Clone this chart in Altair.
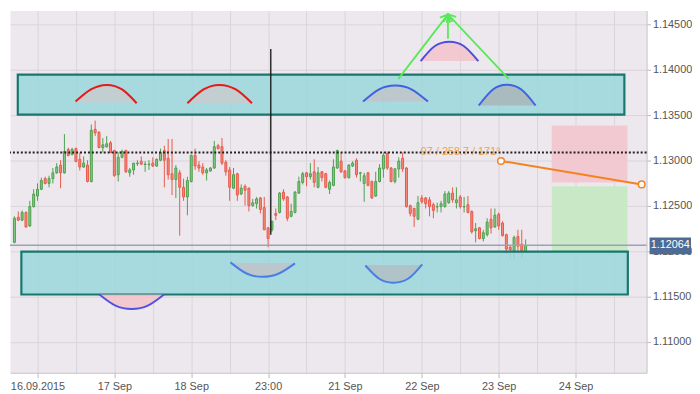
import json
import altair as alt
import pandas as pd

# ---------------- data ----------------
opens = [1.12097, 1.12374, 1.12342, 1.12427, 1.12278, 1.12491, 1.12608, 1.12683, 1.12800, 1.12747,
         1.12800, 1.12864, 1.12949, 1.12864, 1.13120, 1.13067, 1.13131, 1.13013, 1.12928, 1.12949,
         1.12768, 1.13344, 1.13312, 1.13141, 1.13152, 1.13195, 1.13109, 1.12843, 1.13035, 1.13109,
         1.12864, 1.12896, 1.12965, 1.12992, 1.12955, 1.12955, 1.12971, 1.12939, 1.13003, 1.13109,
         1.13024, 1.12854, 1.12790, 1.12864, 1.12704, 1.12598, 1.12768, 1.13056, 1.12949, 1.12928,
         1.12864, 1.12885, 1.12917, 1.13163, 1.13152, 1.12981, 1.12896, 1.12694, 1.12854, 1.12630,
         1.12715, 1.12694, 1.12502, 1.12523, 1.12587, 1.12480, 1.12257, 1.12235, 1.12416, 1.12427,
         1.12651, 1.12598, 1.12384, 1.12427, 1.12640, 1.12758, 1.12864, 1.12821, 1.12875, 1.12704,
         1.12875, 1.12854, 1.12683, 1.12726, 1.12917, 1.12992, 1.12885, 1.12811, 1.12939, 1.13003,
         1.12859, 1.12747, 1.12864, 1.12768, 1.12608, 1.12768, 1.12907, 1.13077, 1.12917, 1.12768,
         1.12907, 1.13024, 1.12917, 1.12502, 1.12470, 1.12352, 1.12587, 1.12587, 1.12566, 1.12512,
         1.12488, 1.12491, 1.12491, 1.12534, 1.12640, 1.12534, 1.12598, 1.12488, 1.12512, 1.12438,
         1.12225, 1.12257, 1.12139, 1.12182, 1.12352, 1.12267, 1.12406, 1.12310, 1.12182, 1.12043,
         1.11990, 1.12161, 1.12075, 1.11990]
highs = [1.12384, 1.12438, 1.12448, 1.12438, 1.12555, 1.12683, 1.12747, 1.12811, 1.12821, 1.12832,
         1.12917, 1.12971, 1.13003, 1.13291, 1.13141, 1.13141, 1.13141, 1.13088, 1.13045, 1.13003,
         1.13397, 1.13440, 1.13323, 1.13248, 1.13269, 1.13216, 1.13120, 1.13088, 1.13120, 1.13120,
         1.12917, 1.12971, 1.13003, 1.13045, 1.12992, 1.13003, 1.13035, 1.13024, 1.13131, 1.13163,
         1.13237, 1.13237, 1.12949, 1.12896, 1.12800, 1.12821, 1.13067, 1.13131, 1.12992, 1.12971,
         1.12917, 1.12928, 1.13216, 1.13184, 1.13248, 1.13003, 1.12928, 1.12917, 1.12864, 1.12736,
         1.12736, 1.12704, 1.12576, 1.12598, 1.12598, 1.12598, 1.12267, 1.12331, 1.12470, 1.12651,
         1.12683, 1.12608, 1.12523, 1.12662, 1.12821, 1.12875, 1.12875, 1.12971, 1.13013, 1.12928,
         1.12885, 1.12864, 1.12779, 1.13013, 1.13120, 1.13088, 1.12896, 1.12960, 1.12992, 1.13024,
         1.12875, 1.12864, 1.12875, 1.12779, 1.12875, 1.12960, 1.13088, 1.13099, 1.12928, 1.12917,
         1.13035, 1.13088, 1.12928, 1.12512, 1.12480, 1.12608, 1.12619, 1.12598, 1.12598, 1.12534,
         1.12534, 1.12555, 1.12662, 1.12662, 1.12704, 1.12704, 1.12619, 1.12598, 1.12608, 1.12449,
         1.12310, 1.12267, 1.12235, 1.12363, 1.12470, 1.12470, 1.12427, 1.12331, 1.12193, 1.12065,
         1.12171, 1.12235, 1.12235, 1.12129]
lows = [1.12086, 1.12331, 1.12331, 1.12257, 1.12267, 1.12480, 1.12555, 1.12672, 1.12736, 1.12705,
        1.12747, 1.12854, 1.12694, 1.12854, 1.13045, 1.13056, 1.12988, 1.12890, 1.12917, 1.12758,
        1.12758, 1.13269, 1.13141, 1.13088, 1.13141, 1.13088, 1.12821, 1.12768, 1.13024, 1.12864,
        1.12821, 1.12843, 1.12939, 1.12949, 1.12875, 1.12896, 1.12928, 1.12928, 1.12992, 1.12704,
        1.12790, 1.12619, 1.12587, 1.12171, 1.12555, 1.12395, 1.12758, 1.12896, 1.12875, 1.12843,
        1.12779, 1.12875, 1.12907, 1.13120, 1.12949, 1.12832, 1.12555, 1.12683, 1.12555, 1.12619,
        1.12502, 1.12438, 1.12491, 1.12470, 1.12416, 1.12235, 1.12043, 1.12214, 1.12342, 1.12416,
        1.12555, 1.12331, 1.12374, 1.12416, 1.12630, 1.12736, 1.12715, 1.12790, 1.12704, 1.12694,
        1.12768, 1.12694, 1.12630, 1.12715, 1.12907, 1.12864, 1.12800, 1.12800, 1.12928, 1.12811,
        1.12768, 1.12544, 1.12715, 1.12576, 1.12598, 1.12758, 1.12811, 1.12896, 1.12758, 1.12747,
        1.12811, 1.12875, 1.12480, 1.12384, 1.12267, 1.12342, 1.12523, 1.12470, 1.12384, 1.12363,
        1.12427, 1.12427, 1.12480, 1.12523, 1.12534, 1.12470, 1.12470, 1.12427, 1.12416, 1.12193,
        1.12097, 1.12129, 1.12107, 1.12161, 1.12193, 1.12257, 1.12235, 1.12161, 1.11969, 1.11915,
        1.11915, 1.11969, 1.11915, 1.11979]
closes = [1.12363, 1.12342, 1.12427, 1.12267, 1.12491, 1.12630, 1.12683, 1.12779, 1.12747, 1.12800,
          1.12864, 1.12928, 1.12864, 1.13099, 1.13056, 1.13120, 1.12988, 1.12928, 1.12971, 1.12768,
          1.13333, 1.13304, 1.13141, 1.13173, 1.13184, 1.13088, 1.12832, 1.13035, 1.13099, 1.12875,
          1.12896, 1.12971, 1.12971, 1.12960, 1.12960, 1.12960, 1.12939, 1.13013, 1.13088, 1.13003,
          1.12843, 1.12790, 1.12917, 1.12704, 1.12598, 1.12779, 1.13056, 1.12939, 1.12917, 1.12864,
          1.12896, 1.12917, 1.13152, 1.13131, 1.12971, 1.12875, 1.12704, 1.12843, 1.12619, 1.12694,
          1.12672, 1.12502, 1.12534, 1.12576, 1.12459, 1.12235, 1.12139, 1.12331, 1.12395, 1.12640,
          1.12576, 1.12363, 1.12438, 1.12651, 1.12768, 1.12854, 1.12821, 1.12854, 1.12758, 1.12864,
          1.12811, 1.12704, 1.12758, 1.12928, 1.13109, 1.12875, 1.12811, 1.12949, 1.12971, 1.12843,
          1.12864, 1.12832, 1.12726, 1.12587, 1.12768, 1.12917, 1.13056, 1.12917, 1.12768, 1.12907,
          1.12992, 1.12907, 1.12491, 1.12416, 1.12384, 1.12534, 1.12544, 1.12523, 1.12491, 1.12449,
          1.12491, 1.12523, 1.12630, 1.12640, 1.12566, 1.12566, 1.12491, 1.12491, 1.12427, 1.12214,
          1.12246, 1.12139, 1.12203, 1.12320, 1.12257, 1.12395, 1.12278, 1.12171, 1.12022, 1.12012,
          1.12150, 1.12054, 1.11990, 1.12064]

tick_labels = ["16.09.2015", "17 Sep", "18 Sep", "23:00", "21 Sep", "22 Sep", "23 Sep", "24 Sep"]
grid_bars = [6, 16, 26, 36, 46, 56, 66, 76, 86, 96, 106, 116, 126, 136, 146, 156]
price_ticks = [1.110, 1.115, 1.120, 1.125, 1.130, 1.135, 1.140, 1.145]

last_price = 1.12064
level_price = 1.13088

# support / resistance zones
zone_start = [0.87, 1.80]
zone_end = [158.7, 159.6]
zone_low = [1.13507, 1.11521]
zone_high = [1.13948, 1.11995]

# stop / target boxes
box_start = [139.8, 139.8]
box_end = [159.5, 159.5]
box_low = [1.12758, 1.12000]
box_high = [1.13386, 1.12715]

# hand-drawn arcs
arc_x = [
    [15.9, 19.9, 24.0, 28.0, 31.8],
    [45.0, 49.2, 53.3, 57.6, 61.8],
    [90.7, 94.9, 99.1, 103.3, 107.6],
    [120.8, 124.5, 128.1, 131.9, 135.6],
    [105.7, 109.4, 113.2, 116.9, 120.7],
    [56.2, 60.4, 64.6, 68.8, 73.0],
    [91.3, 94.9, 98.5, 102.4, 106.1],
    [22.1, 26.3, 30.5, 34.7, 38.9],
]
arc_y = [
    [1.13650, 1.13784, 1.13834, 1.13784, 1.13632],
    [1.13632, 1.13784, 1.13834, 1.13784, 1.13632],
    [1.13650, 1.13786, 1.13827, 1.13786, 1.13650],
    [1.13607, 1.13784, 1.13837, 1.13784, 1.13607],
    [1.14097, 1.14263, 1.14311, 1.14263, 1.14097],
    [1.11876, 1.11753, 1.11716, 1.11753, 1.11865],
    [1.11841, 1.11695, 1.11652, 1.11695, 1.11855],
    [1.11521, 1.11398, 1.11361, 1.11398, 1.11521],
]
arc_base = [1.13641, 1.13632, 1.13650, 1.13607, 1.14097, 1.11870, 1.11848, 1.11521]

# green arrows (start -> common tip)
arrow_x0 = [99.9, 112.8, 128.6]
arrow_y0 = [1.13901, 1.14343, 1.13901]
arrow_x1 = [112.8, 112.8, 112.8]
arrow_y1 = [1.14612, 1.14612, 1.14612]
arrow_angle = [37.8, 0.0, 316.5]

# vertical marker
vline_x = [66.7]
vline_top = [1.14229]
vline_bottom = [1.12182]

# orange trend line and its label
trend_x = [126.6, 163.2]
trend_y = [1.12995, 1.12736]
trend_text = "97 / 258.7 / 171°"
trend_text_x = [116.1]
trend_text_y = [1.13088]

# ---------------- styles ----------------
W, H = 645, 367
FONT = "Liberation Sans"
arc_stroke = ["#e8191a", "#e8191a", "#3f62e2", "#3f62e2", "#4b4fe0", "#4a7de6", "#4a7de6", "#5252e2"]
arc_fill = ["#c8cbcf", "#c8cbcf", "#bfc4c8", "#a9b5ba", "#f2c3cb", "#bfc3c8", "#b2bec4", "#f2c3cb"]
box_fill = ["#f2c9d0", "#c9e8c6"]

x_scale = alt.Scale(domain=[0.12, 163.2], nice=False, zero=False)
y_scale = alt.Scale(domain=[1.10658, 1.14655], nice=False, zero=False)

labels_js = json.dumps(tick_labels)
label_expr = (f"(datum.value - {grid_bars[0]}) % 20 == 0 ? "
              f"{labels_js}[(datum.value - {grid_bars[0]}) / 20] : ''")

x_axis = alt.Axis(values=grid_bars, labelExpr=label_expr, title=None, grid=True,
                  gridColor="#d9d4da", domainColor="#c6c3c8", tickColor="#b8b8b8", tickSize=5,
                  tickOpacity={"condition": {"test": f"(datum.value - {grid_bars[0]}) % 20 != 0", "value": 0}, "value": 1},
                  labelColor="#555555", labelFont=FONT, labelFontSize=11, labelPadding=3,
                  labelOverlap=False, labelFlush=False)
y_axis = alt.Axis(orient="right", values=price_ticks, format=".5f", title=None, grid=True,
                  gridColor="#d9d4da", domainColor="#c6c3c8", tickColor="#b8b8b8", tickSize=4,
                  labelColor="#555555", labelFont=FONT, labelFontSize=11, labelPadding=2)


def X(f):
    return alt.X(f, type="quantitative", scale=x_scale, axis=x_axis)


def Y(f):
    return alt.Y(f, type="quantitative", scale=y_scale, axis=y_axis)


# ---------------- frames ----------------
candles = pd.DataFrame({"bar": list(range(len(opens))), "open": opens, "high": highs,
                        "low": lows, "close": closes})
zones = pd.DataFrame({"x0": zone_start, "x1": zone_end, "lo": zone_low, "hi": zone_high})
boxes = pd.DataFrame({"x0": box_start, "x1": box_end, "lo": box_low, "hi": box_high, "fill": box_fill})
arc_rows = []
for i, (xs, ys) in enumerate(zip(arc_x, arc_y)):
    for xv, yv in zip(xs, ys):
        arc_rows.append({"arc": i, "k": xv, "p": yv, "base": arc_base[i],
                         "stroke": arc_stroke[i], "fill": arc_fill[i]})
arcs = pd.DataFrame(arc_rows)
arrows = pd.DataFrame({"x0": arrow_x0, "y0": arrow_y0, "x1": arrow_x1, "y1": arrow_y1, "a": arrow_angle})
vline = pd.DataFrame({"x": vline_x, "top": vline_top, "bot": vline_bottom})
trend = pd.DataFrame({"x": trend_x, "y": trend_y})
ttext = pd.DataFrame({"x": trend_text_x, "y": trend_text_y, "t": [trend_text]})
lastp = pd.DataFrame({"p": [last_price], "t": [f"{last_price:.5f}"]})
level = pd.DataFrame({"p": [level_price]})

up_color = "datum.close >= datum.open"

box_layer = alt.Chart(boxes).mark_rect().encode(
    x=X("x0"), x2="x1", y=Y("lo"), y2="hi", color=alt.Color("fill:N", scale=None))

wicks = alt.Chart(candles).mark_rule(strokeWidth=1, clip=True).encode(
    x=X("bar"), y=Y("low"), y2="high",
    color=alt.condition(up_color, alt.value("#4c9f4d"), alt.value("#e8594a")))
bodies = alt.Chart(candles).mark_bar(size=2, strokeWidth=1, clip=True).encode(
    x=X("bar"), y=Y("open"), y2="close",
    fill=alt.condition(up_color, alt.value("#86c986"), alt.value("#f58a7a")),
    stroke=alt.condition(up_color, alt.value("#4c9f4d"), alt.value("#e8594a")))

zone_layer = alt.Chart(zones).mark_rect(fill="#9cd7dc", fillOpacity=0.88, stroke="#17776d",
                                        strokeWidth=2.2).encode(
    x=X("x0"), x2="x1", y=Y("lo"), y2="hi")

arc_area = alt.Chart(arcs).mark_area(interpolate="natural", opacity=0.85).encode(
    x=X("k"), y=Y("p"), y2="base", detail="arc:N", color=alt.Color("fill:N", scale=None))
arc_line = alt.Chart(arcs).mark_line(interpolate="natural", strokeWidth=2).encode(
    x=X("k"), y=Y("p"), detail="arc:N", color=alt.Color("stroke:N", scale=None))

price_line = alt.Chart(lastp).mark_rule(color="#9aa3b5", strokeWidth=1.5).encode(y=Y("p"))
level_line = alt.Chart(level).mark_rule(color="#222222", strokeWidth=2.2, strokeDash=[2, 2]).encode(y=Y("p"))

trend_line = alt.Chart(trend).mark_line(color="#f5821f", strokeWidth=2, clip=True).encode(
    x=X("x"), y=Y("y"))
trend_pts = alt.Chart(trend).mark_point(shape="circle", filled=True, fill="white", stroke="#f5821f",
                                        strokeWidth=1.5, size=45, opacity=1, clip=True).encode(
    x=X("x"), y=Y("y"))
trend_lbl = alt.Chart(ttext).mark_text(color="#f5962f", opacity=0.85, font=FONT, fontSize=11,
                                       align="center", baseline="middle").encode(
    x=X("x"), y=Y("y"), text="t:N")

vline_layer = alt.Chart(vline).mark_rule(color="#111111", strokeWidth=1.3).encode(
    x=X("x"), y=Y("top"), y2="bot")

arrow_lines = alt.Chart(arrows).mark_rule(color="#58e858", strokeWidth=1.8).encode(
    x=X("x0"), y=Y("y0"), x2="x1", y2="y1")
arrow_heads = alt.Chart(arrows).mark_point(shape="M -0.5 0.87 L 0 0 L 0.5 0.87", filled=False,
                                           color="#58e858", strokeWidth=1.8, size=300, opacity=1).encode(
    x=X("x1"), y=Y("y1"), angle=alt.Angle("a:Q", scale=None))

lp_box = alt.Chart(lastp).mark_rect(color="#4d6b94", yOffset=-8, y2Offset=9).encode(
    x=alt.value(W + 3), x2=alt.value(W + 45), y=Y("p"), y2="p")
lp_text = alt.Chart(lastp).mark_text(color="white", font=FONT, fontSize=11, align="center",
                                     baseline="middle").encode(
    x=alt.value(W + 24), y=Y("p"), text="t:N")

chart = alt.layer(
    box_layer, wicks, bodies, zone_layer, arc_area, arc_line, price_line, level_line,
    trend_line, trend_pts, trend_lbl, vline_layer, arrow_lines, arrow_heads, lp_box, lp_text
).properties(width=W, height=H, padding=0, background="white").configure_view(
    fill="#ede8ee", strokeOpacity=0)

chart.save("out.html", embed_options={"renderer": "svg", "actions": False})
